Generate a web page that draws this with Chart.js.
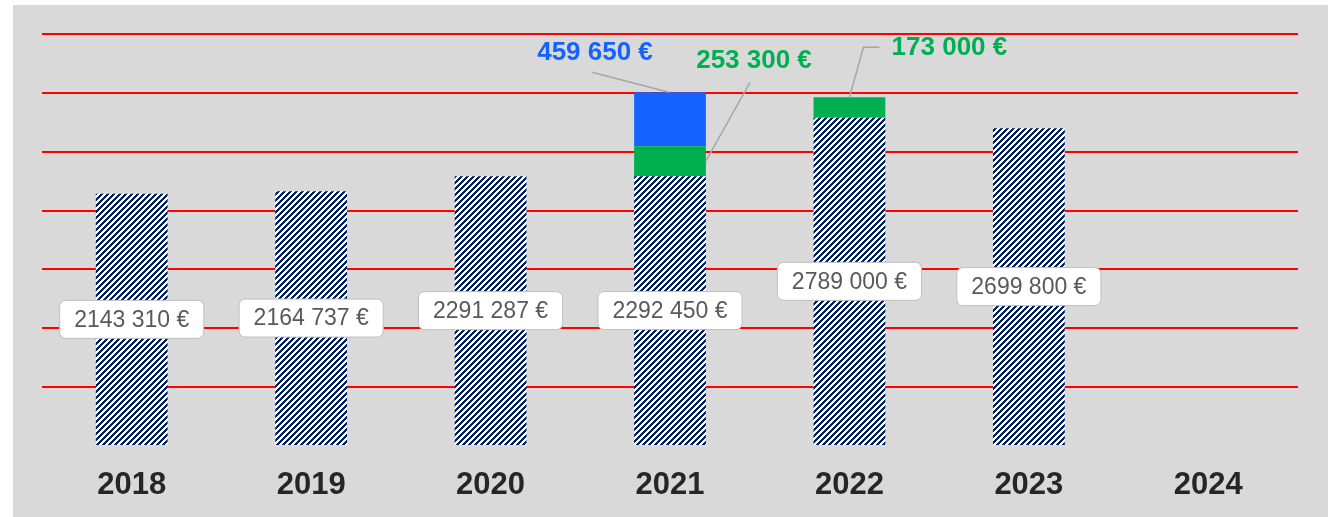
<!DOCTYPE html>
<html>
<head>
<meta charset="utf-8">
<script src="https://cdn.jsdelivr.net/npm/chart.js@4.4.1/dist/chart.umd.min.js"></script>
<style>
  html, body { margin: 0; padding: 0; background: #ffffff; }
  #wrap { width: 1337px; height: 517px; }
</style>
</head>
<body>
<div id="wrap"><canvas id="chart" width="1337" height="517"></canvas></div>
<script>
// data
const years = ["2018", "2019", "2020", "2021", "2022", "2023", "2024"];
const baseValues = [2143310, 2164737, 2291287, 2292450, 2789000, 2699800, null];
const greenValues = [null, null, null, 253300, 173000, null, null];
const blueValues = [null, null, null, 459650, null, null, null];
const yMax = 3500000;
const yStep = 500000;

const GREEN = "#00b050";
const BLUE = "#1463ff";

function euro(v) {
  const k = Math.floor(v / 1000);
  const r = String(v % 1000).padStart(3, "0");
  return k + " " + r + " €";
}

// diagonal hatch pattern, pixel exact
function hatch() {
  const c = document.createElement("canvas");
  c.width = 6; c.height = 6;
  const g = c.getContext("2d");
  const img = g.createImageData(6, 6);
  for (let y = 0; y < 6; y++) {
    for (let x = 0; x < 6; x++) {
      const k = (y * 6 + x) * 4;
      const on = (x + y) % 6 < 3;
      img.data[k] = on ? 0x00 : 255;
      img.data[k + 1] = on ? 0x20 : 255;
      img.data[k + 2] = on ? 0x60 : 255;
      img.data[k + 3] = 255;
    }
  }
  g.putImageData(img, 0, 0);
  return g.createPattern(c, "repeat");
}

const background = {
  id: "background",
  beforeDraw(chart) {
    const ctx = chart.ctx;
    ctx.save();
    ctx.fillStyle = "#d9d9d9";
    ctx.fillRect(13, 5, 1315, 512);
    ctx.restore();
  }
};

function roundRect(ctx, x, y, w, h, r) {
  ctx.beginPath();
  ctx.moveTo(x + r, y);
  ctx.arcTo(x + w, y, x + w, y + h, r);
  ctx.arcTo(x + w, y + h, x, y + h, r);
  ctx.arcTo(x, y + h, x, y, r);
  ctx.arcTo(x, y, x + w, y, r);
  ctx.closePath();
}

// callout labels: dataset index, category index, text offset from segment top
const callouts = [
  { ds: 2, i: 3, dx: -75, dy: -39, color: BLUE,
    line: b => [[b.x - 78, b.y - 20], [b.x - 1, b.y]] },
  { ds: 1, i: 3, dx: 84, dy: -86, color: GREEN,
    line: b => [[b.x + 80, b.y - 64], [b.x + b.width / 2, (b.y + b.base) / 2]] },
  { ds: 1, i: 4, dx: 100, dy: -50, color: GREEN,
    line: b => [[b.x + 30, b.y - 50], [b.x + 14, b.y - 50], [b.x, b.y]] }
];

const labels = {
  id: "labels",
  afterDatasetsDraw(chart) {
    const ctx = chart.ctx;
    ctx.save();
    // value boxes inside the hatched bars
    ctx.font = "23px 'Liberation Sans', Arial, sans-serif";
    ctx.textAlign = "center";
    ctx.textBaseline = "middle";
    chart.getDatasetMeta(0).data.forEach((bar, i) => {
      if (baseValues[i] == null) return;
      const txt = euro(baseValues[i]);
      const w = ctx.measureText(txt).width + 29;
      const h = 38;
      const cx = bar.x;
      const cy = (bar.y + bar.base) / 2;
      roundRect(ctx, cx - w / 2, cy - h / 2, w, h, 6);
      ctx.fillStyle = "#ffffff";
      ctx.fill();
      ctx.lineWidth = 1;
      ctx.strokeStyle = "#bfbfbf";
      ctx.stroke();
      ctx.fillStyle = "#595959";
      ctx.fillText(txt, cx, cy + 1);
    });
    // callouts with leader lines
    const sets = [baseValues, greenValues, blueValues];
    callouts.forEach(c => {
      const b = chart.getDatasetMeta(c.ds).data[c.i];
      const pts = c.line(b);
      ctx.beginPath();
      ctx.moveTo(pts[0][0], pts[0][1]);
      for (let k = 1; k < pts.length; k++) ctx.lineTo(pts[k][0], pts[k][1]);
      ctx.strokeStyle = "#a6a6a6";
      ctx.lineWidth = 1.5;
      ctx.stroke();
      ctx.font = "bold 26px 'Liberation Sans', Arial, sans-serif";
      ctx.fillStyle = c.color;
      ctx.fillText(euro(sets[c.ds][c.i]), b.x + c.dx, b.y + c.dy);
    });
    ctx.restore();
  }
};

const ctx = document.getElementById("chart").getContext("2d");
new Chart(ctx, {
  type: "bar",
  data: {
    labels: years,
    datasets: [
      { data: baseValues, backgroundColor: hatch(), borderWidth: 0 },
      { data: greenValues, backgroundColor: GREEN, borderWidth: 0 },
      { data: blueValues, backgroundColor: BLUE, borderWidth: 0 }
    ]
  },
  options: {
    responsive: false,
    animation: false,
    barPercentage: 0.4,
    categoryPercentage: 1,
    layout: { padding: { left: 42, right: 39, top: 34, bottom: 0 } },
    plugins: {
      legend: { display: false },
      tooltip: { enabled: false }
    },
    scales: {
      x: {
        stacked: true,
        grid: { display: false },
        border: { display: false },
        ticks: {
          color: "#262626",
          padding: 13,
          font: { family: "'Liberation Sans', Arial, sans-serif", size: 31, weight: "bold" }
        },
        afterFit: s => { s.height = 71; }
      },
      y: {
        stacked: true,
        min: 0,
        max: yMax,
        ticks: { display: false, stepSize: yStep },
        border: { display: false },
        grid: {
          drawTicks: false,
          lineWidth: 2,
          color: c => (c.tick && c.tick.value === 0 ? "rgba(0,0,0,0)" : "#ff0000")
        },
        afterFit: s => { s.width = 0; }
      }
    }
  },
  plugins: [background, labels]
});
</script>
</body>
</html>
